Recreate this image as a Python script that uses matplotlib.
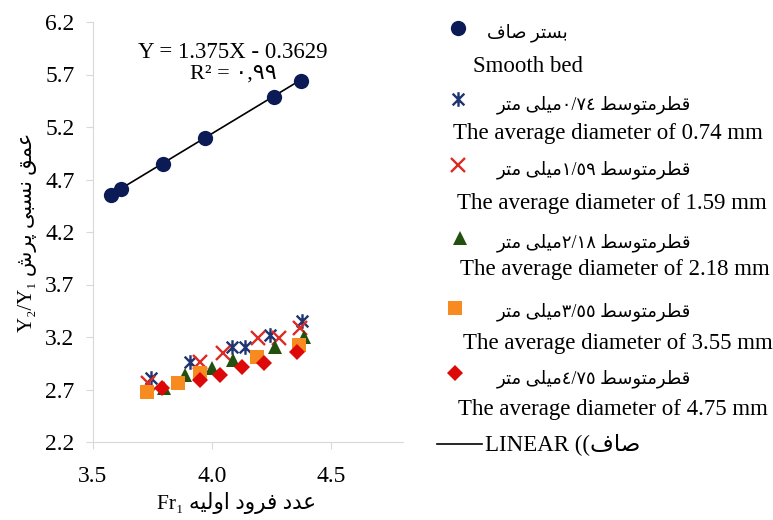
import re
import matplotlib
matplotlib.use("Agg")
import matplotlib.pyplot as plt
from matplotlib.lines import Line2D
from matplotlib.path import Path

plt.rcParams['font.family'] = ['Liberation Serif', 'DejaVu Sans']

# --- data ---
smooth_x = [3.579, 3.621, 3.795, 3.971, 4.261, 4.373]
smooth_y = [4.555, 4.607, 4.845, 5.098, 5.489, 5.635]

d074_x = [3.744, 3.908, 4.083, 4.139, 4.244, 4.377]
d074_y = [2.805, 2.965, 3.108, 3.108, 3.219, 3.352]

d159_x = [3.731, 3.950, 4.047, 4.195, 4.279, 4.370]
d159_y = [2.762, 2.965, 3.045, 3.188, 3.188, 3.283]

d218_x = [3.800, 3.887, 3.999, 4.089, 4.265, 4.384]
d218_y = [2.710, 2.838, 2.902, 2.981, 3.108, 3.203]

d355_x = [3.728, 3.858, 3.950, 4.188, 4.363]
d355_y = [2.679, 2.759, 2.854, 3.012, 3.124]

d475_x = [3.789, 3.950, 4.034, 4.125, 4.216, 4.356]
d475_y = [2.711, 2.790, 2.838, 2.917, 2.950, 3.060]

slope = 1.375
intercept = -0.3629

x_ticks = [3.5, 4.0, 4.5]
y_ticks = [2.2, 2.7, 3.2, 3.7, 4.2, 4.7, 5.2, 5.7, 6.2]

fa_labels = ["بستر صاف",
             "قطرمتوسط ٠/٧٤میلی متر",
             "قطرمتوسط ١/٥٩میلی متر",
             "قطرمتوسط ٢/١٨میلی متر",
             "قطرمتوسط ٣/٥٥میلی متر",
             "قطرمتوسط ٤/٧٥میلی متر"]
en_labels = ["Smooth bed",
             "The average diameter of 0.74 mm",
             "The average diameter of 1.59 mm",
             "The average diameter of 2.18 mm",
             "The average diameter of 3.55 mm",
             "The average diameter of 4.75 mm"]

# --- minimal arabic shaping (matplotlib has no bidi / joining) ---
FORMS = {
    'ا': ('\uFE8D', '\uFE8E', None, None),
    'ب': ('\uFE8F', '\uFE90', '\uFE91', '\uFE92'),
    'پ': ('\uFB56', '\uFB57', '\uFB58', '\uFB59'),
    'ت': ('\uFE95', '\uFE96', '\uFE97', '\uFE98'),
    'د': ('\uFEA9', '\uFEAA', None, None),
    'ر': ('\uFEAD', '\uFEAE', None, None),
    'س': ('\uFEB1', '\uFEB2', '\uFEB3', '\uFEB4'),
    'ش': ('\uFEB5', '\uFEB6', '\uFEB7', '\uFEB8'),
    'ص': ('\uFEB9', '\uFEBA', '\uFEBB', '\uFEBC'),
    'ط': ('\uFEC1', '\uFEC2', '\uFEC3', '\uFEC4'),
    'ع': ('\uFEC9', '\uFECA', '\uFECB', '\uFECC'),
    'ف': ('\uFED1', '\uFED2', '\uFED3', '\uFED4'),
    'ق': ('\uFED5', '\uFED6', '\uFED7', '\uFED8'),
    'ل': ('\uFEDD', '\uFEDE', '\uFEDF', '\uFEE0'),
    'م': ('\uFEE1', '\uFEE2', '\uFEE3', '\uFEE4'),
    'ن': ('\uFEE5', '\uFEE6', '\uFEE7', '\uFEE8'),
    'ه': ('\uFEE9', '\uFEEA', '\uFEEB', '\uFEEC'),
    'و': ('\uFEED', '\uFEEE', None, None),
    'ی': ('\uFBFC', '\uFBFD', '\uFBFE', '\uFBFF'),
}
DIGITS = '0123456789\u0660\u0661\u0662\u0663\u0664\u0665\u0666\u0667\u0668\u0669/,.'


def shape(word):
    out = []
    for i, ch in enumerate(word):
        if ch not in FORMS:
            out.append(ch)
            continue
        iso, fin, ini, med = FORMS[ch]
        prev = word[i - 1] if i > 0 else ''
        nxt = word[i + 1] if i + 1 < len(word) else ''
        jp = prev in FORMS and FORMS[prev][2] is not None
        jn = nxt in FORMS and ini is not None
        if jp and jn:
            out.append(med)
        elif jp:
            out.append(fin)
        elif jn:
            out.append(ini)
        else:
            out.append(iso)
    return ''.join(out)


def rtl(text):
    s = shape(text)
    runs = re.findall('[' + re.escape(DIGITS) + ']+|[^' + re.escape(DIGITS) + ']+', s)
    return ''.join(r if r[0] in DIGITS else r[::-1] for r in reversed(runs))


# excel-like asterisk marker
ast = Path([(-1, -1), (1, 1), (-1, 1), (1, -1), (0, -1.25), (0, 1.25)],
           [Path.MOVETO, Path.LINETO, Path.MOVETO, Path.LINETO, Path.MOVETO, Path.LINETO])

navy = '#0c1b55'
styles = [
    dict(marker='o', color=navy, ms=11, mew=0),
    dict(marker=ast, color='#1f3470', ms=10.5, mew=1.7, fillstyle='none'),
    dict(marker='x', color='#dc2b25', ms=9.5, mew=1.7),
    dict(marker='^', color='#24500f', ms=10.5, mew=0),
    dict(marker='s', color='#f78b1f', ms=10.5, mew=0),
    dict(marker='D', color='#dd0808', ms=8.5, mew=0),
]

fig = plt.figure(figsize=(7.73, 5.2), dpi=100)
ax = fig.add_axes([92.5 / 773, 1 - 442 / 520, (403 - 92.5) / 773, 420 / 520])

series = [(smooth_x, smooth_y), (d074_x, d074_y), (d159_x, d159_y),
          (d218_x, d218_y), (d355_x, d355_y), (d475_x, d475_y)]
for (xs, ys), st in zip(series, styles):
    ax.plot(xs, ys, linestyle='none', **st)

fit_x = [min(smooth_x), max(smooth_x)]
ax.plot(fit_x, [slope * v + intercept for v in fit_x], color='black', lw=1.2, zorder=1)

ax.text(4.088, 5.914, "Y = 1.375X - 0.3629", ha='center', va='center', fontsize=16.5)
ax.text(4.088, 5.70, "R² = ٠,٩٩", ha='center', va='center', fontsize=16)

ax.set_xlim(3.5, 4.8)
ax.set_ylim(2.2, 6.2)
ax.set_xticks(x_ticks)
ax.set_yticks(y_ticks)
ax.set_xticklabels([f"{v:.1f}" for v in x_ticks])
ax.set_yticklabels([f"{v:.1f}" for v in y_ticks])
for s in ['top', 'right']:
    ax.spines[s].set_visible(False)
for s in ['left', 'bottom']:
    ax.spines[s].set_color('#d9d9d9')
ax.tick_params(colors='#d9d9d9', labelcolor='black', length=5, labelsize=17)
ax.tick_params(axis='x', pad=12)
ax.tick_params(axis='y', pad=8)

ax.set_xlabel("Fr₁ " + rtl("عدد فرود اولیه"), fontsize=15.5)
ax.xaxis.set_label_coords(0.465, -0.12)
ax.set_ylabel("Y₂/Y₁ " + rtl("عمق نسبی پرش"), fontsize=15, labelpad=6)

# --- legend drawn by hand (two-line labels, marker on the first line) ---
W, H = 773, 520
mark_pos = [(458, 28), (458, 99), (458, 165), (460, 238), (455, 308), (455, 373)]
fa_pos = [(487, 33), (497, 105), (497, 170), (497, 243), (497, 312), (497, 379)]
en_pos = [(473, 67), (453, 134), (457, 204), (460, 270), (463, 343), (458, 410)]
for st, mp, fp, ep, fl, el in zip(styles, mark_pos, fa_pos, en_pos, fa_labels, en_labels):
    fig.add_artist(Line2D([mp[0] / W], [1 - mp[1] / H], transform=fig.transFigure,
                          linestyle='none', **st))
    fig.text(fp[0] / W, 1 - fp[1] / H, rtl(fl), fontsize=13, ha='left', va='center')
    fig.text(ep[0] / W, 1 - ep[1] / H, el, fontsize=16.5, ha='left', va='center')

fig.add_artist(Line2D([437 / W, 482 / W], [1 - 444 / H] * 2, transform=fig.transFigure,
                      color='black', lw=1.2))
fig.text(485 / W, 1 - 444 / H, "LINEAR ((" + rtl("صاف"), fontsize=16.5, ha='left', va='center')

fig.savefig("out.png", dpi=100)
